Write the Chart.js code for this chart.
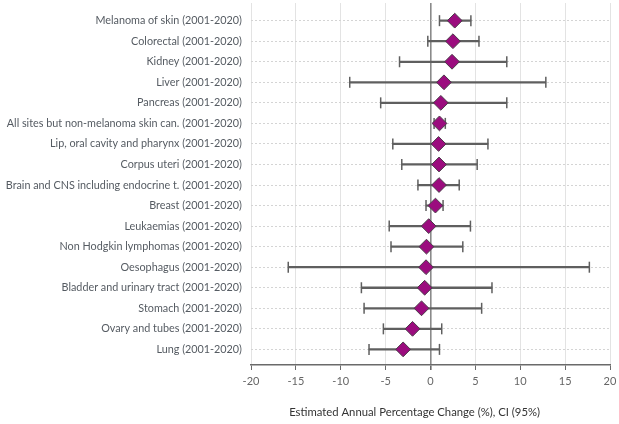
<!DOCTYPE html>
<html>
<head>
<meta charset="utf-8">
<script src="https://cdn.jsdelivr.net/npm/chart.js@4/dist/chart.umd.min.js"></script>
<style>
  html, body { margin: 0; padding: 0; background: #fff; }
  #wrap { width: 619px; height: 424px; }
</style>
</head>
<body>
<div id="wrap"><canvas id="c" width="619" height="424"></canvas></div>
<script>
const categories = [
  "Melanoma of skin (2001-2020)",
  "Colorectal (2001-2020)",
  "Kidney (2001-2020)",
  "Liver (2001-2020)",
  "Pancreas (2001-2020)",
  "All sites but non-melanoma skin can. (2001-2020)",
  "Lip, oral cavity and pharynx (2001-2020)",
  "Corpus uteri (2001-2020)",
  "Brain and CNS including endocrine t. (2001-2020)",
  "Breast (2001-2020)",
  "Leukaemias (2001-2020)",
  "Non Hodgkin lymphomas (2001-2020)",
  "Oesophagus (2001-2020)",
  "Bladder and urinary tract (2001-2020)",
  "Stomach (2001-2020)",
  "Ovary and tubes (2001-2020)",
  "Lung (2001-2020)"
];
const estimate = [2.7, 2.5, 2.4, 1.5, 1.15, 1.0, 0.9, 0.95, 0.95, 0.55, -0.2, -0.45, -0.5, -0.65, -1.0, -2.0, -3.05];
const ciLow    = [1.0, -0.3, -3.45, -9.0, -5.55, 0.4, -4.2, -3.2, -1.4, -0.5, -4.6, -4.4, -15.85, -7.7, -7.4, -5.25, -6.85];
const ciHigh   = [4.5, 5.4, 8.5, 12.85, 8.5, 1.65, 6.4, 5.2, 3.2, 1.4, 4.45, 3.6, 17.7, 6.85, 5.7, 1.25, 1.0];
const xTicksMin = -20, xTicksMax = 20, xStep = 5;
const axisTitle = "Estimated Annual Percentage Change (%), CI (95%)";

const FONT = "Lato";
const whiskerColor = "#5f5f5f";

const chart = new Chart(document.getElementById('c'), {
  type: 'bar',
  data: {
    datasets: [
      {
        type: 'bar',
        indexAxis: 'y',
        data: categories.map((_, i) => ({ x: [ciLow[i], ciHigh[i]], y: i })),
        backgroundColor: whiskerColor,
        borderWidth: 0,
        barThickness: 1.6,
        order: 3
      },
      {
        type: 'scatter',
        data: categories.map((_, i) => ({ x: ciLow[i], y: i })),
        pointStyle: 'line',
        rotation: 90,
        radius: 5.5,
        borderColor: whiskerColor,
        borderWidth: 1.5,
        order: 2
      },
      {
        type: 'scatter',
        data: categories.map((_, i) => ({ x: ciHigh[i], y: i })),
        pointStyle: 'line',
        rotation: 90,
        radius: 5.5,
        borderColor: whiskerColor,
        borderWidth: 1.5,
        order: 2
      },
      {
        type: 'scatter',
        data: categories.map((_, i) => ({ x: estimate[i], y: i })),
        pointStyle: 'rectRot',
        radius: 7.4,
        backgroundColor: '#9b0c7e',
        borderColor: '#4a3a48',
        borderWidth: 1,
        order: 0
      }
    ]
  },
  options: {
    responsive: false,
    animation: false,
    layout: { autoPadding: false, padding: { top: 3, right: 9, left: 0, bottom: 0 } },
    plugins: { legend: { display: false }, tooltip: { enabled: false } },
    scales: {
      x: {
        type: 'linear',
        offset: false,
        min: xTicksMin,
        max: xTicksMax,
        ticks: { stepSize: xStep, color: '#666', font: { family: FONT, size: 11 }, padding: 5 },
        grid: {
          offset: false,
          color: (ctx) => (ctx.tick && ctx.tick.value === 0) ? '#8a8a8a' : '#e3e3e3',
          lineWidth: (ctx) => (ctx.tick && ctx.tick.value === 0) ? 1.6 : 1,
          tickColor: '#6a6a6a',
          tickLength: 5,
          drawTicks: true
        },
        border: { display: true, color: '#6a6a6a', width: 1.5 },
        title: {
          display: true,
          text: axisTitle + "           ",
          color: '#333',
          font: { family: FONT, size: 11.3 },
          padding: { top: 0, bottom: 5 }
        },
        afterFit: (scale) => { scale.height = 59; scale.paddingLeft = 0; scale.paddingRight = 0; }
      },
      y: {
        type: 'linear',
        offset: false,
        reverse: true,
        min: -0.86,
        max: 16.76,
        afterBuildTicks: (scale) => { scale.ticks = categories.map((_, i) => ({ value: i })); },
        ticks: {
          autoSkip: false,
          color: '#555b62',
          font: { family: FONT, size: 10.8 },
          padding: 9,
          callback: (v) => categories[v] !== undefined ? categories[v] : ''
        },
        grid: { offset: false, color: '#d4d4d4', lineWidth: 1, drawTicks: false },
        border: { display: false, dash: [2, 2] },
        afterFit: (scale) => { scale.width = 251; scale.paddingTop = 0; scale.paddingBottom = 0; }
      }
    }
  }
});
</script>
</body>
</html>
